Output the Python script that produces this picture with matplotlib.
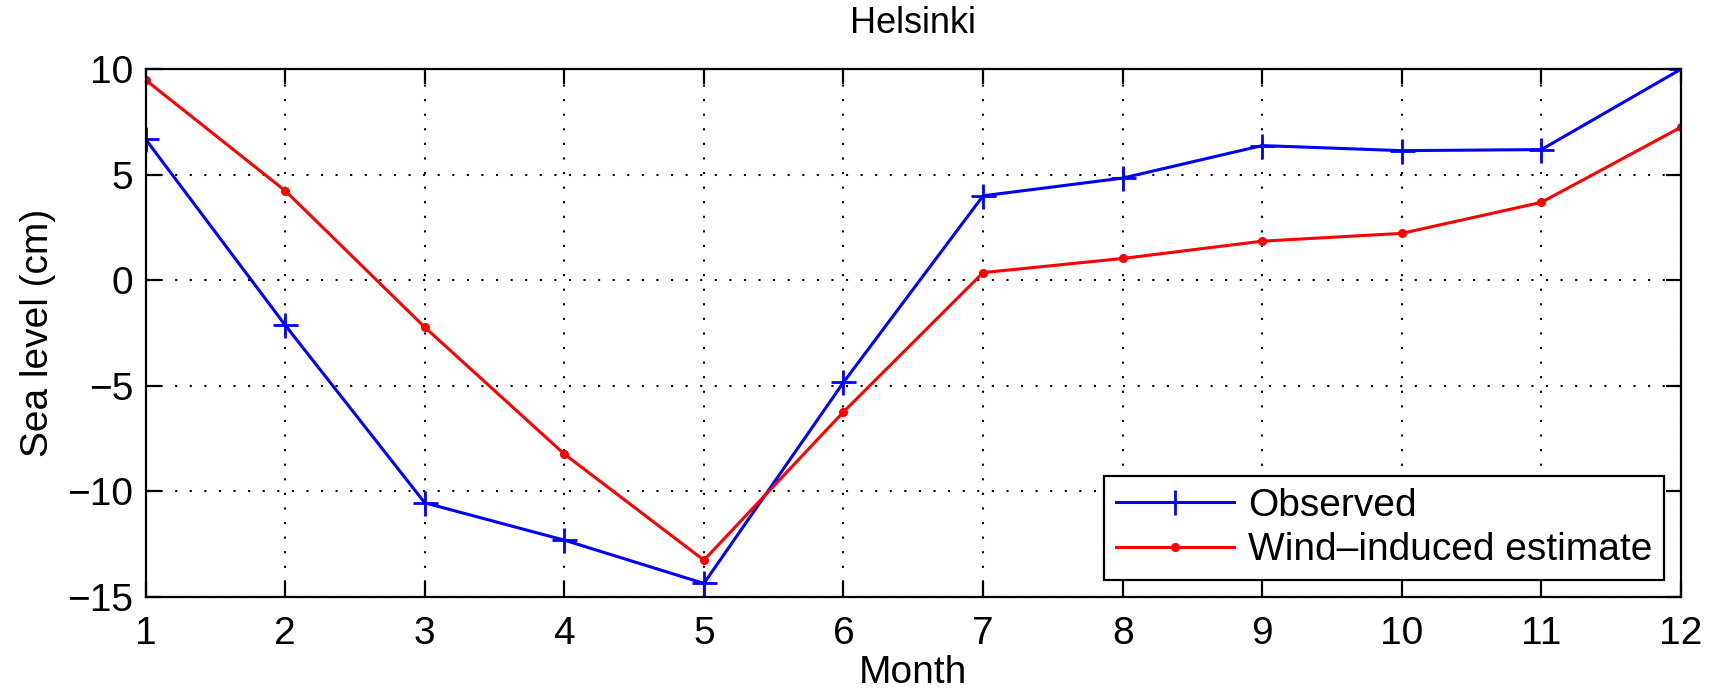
import matplotlib
matplotlib.use('Agg')
import matplotlib.pyplot as plt

plt.rcParams['font.family'] = ['Liberation Sans', 'DejaVu Sans']

months = [1, 2, 3, 4, 5, 6, 7, 8, 9, 10, 11, 12]
observed = [6.68, -2.13, -10.55, -12.32, -14.37, -4.84, 4.0, 4.84, 6.38, 6.14, 6.19, 10.0]
wind_est = [9.49, 4.24, -2.23, -8.24, -13.27, -6.24, 0.36, 1.03, 1.85, 2.22, 3.69, 7.25]

fig = plt.figure(figsize=(17.17, 6.92), dpi=100)
ax = fig.add_axes([0.0848, 0.1377, 0.8942, 0.7623])

ax.plot(months, observed, '-', color='blue', marker='+', markersize=18,
        markeredgewidth=2.0, linewidth=2.2, label='Observed')
ax.plot(months, wind_est, '-', color='red', marker='.', markersize=11,
        linewidth=2.2, label='Wind\u2013induced estimate')

ax.set_xlim(1, 12)
ax.set_ylim(-15, 10)
ax.set_xticks(months)
ax.set_yticks([-15, -10, -5, 0, 5, 10])
ax.set_yticklabels(['\u221215', '\u221210', '\u22125', '0', '5', '10'])
ax.grid(True, linestyle=(0, (1, 6)), color='black', linewidth=1.5)
ax.tick_params(direction='in', length=11, width=1.6, labelsize=28,
               top=True, right=True, pad=9)
ax.tick_params(axis='x', pad=14)
for s in ax.spines.values():
    s.set_linewidth(1.6)

ax.set_xlabel('Month', fontsize=28, labelpad=2)
ax.set_ylabel('Sea level (cm)', fontsize=28, labelpad=8)
ax.set_title('Helsinki', fontsize=26, pad=26)

leg = ax.legend(loc='lower right', bbox_to_anchor=(0.989, 0.032), fontsize=28,
                fancybox=False, edgecolor='black', framealpha=1,
                handlelength=3.05, handletextpad=0.35, borderpad=0.3,
                labelspacing=0.22, borderaxespad=0)
leg.get_frame().set_linewidth(1.6)

fig.savefig('out.png', dpi=100)
